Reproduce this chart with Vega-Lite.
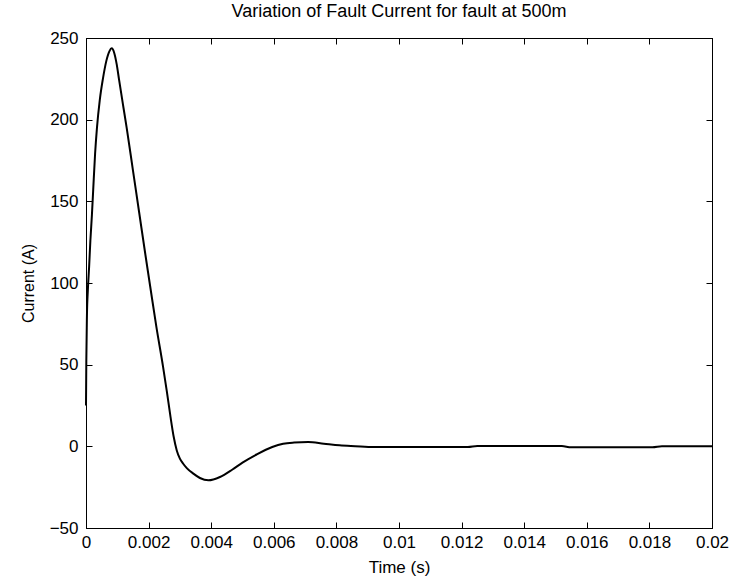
{
  "$schema": "https://vega.github.io/schema/vega-lite/v6.json",
  "width": 626,
  "height": 490,
  "autosize": {"type": "none"},
  "padding": {"left": 86, "top": 38, "right": 27, "bottom": 60},
  "background": "white",
  "config": {
    "font": "Liberation Sans",
    "view": {"stroke": "black", "strokeWidth": 1},
    "axis": {"grid": false, "domainColor": "black", "tickColor": "black", "labelColor": "black", "titleColor": "black", "labelFont": "Liberation Sans", "titleFont": "Liberation Sans", "titleFontWeight": "normal"}
  },
  "title": {"text": "Variation of Fault Current for fault at 500m", "fontSize": 18, "fontWeight": "normal", "font": "Liberation Sans", "color": "black", "offset": 8, "anchor": "middle"},
  "data": {"values": [
    {"t": 0, "i": 25}, {"t": 0.00001, "i": 52}, {"t": 0.00003, "i": 80}, {"t": 0.00006, "i": 96},
    {"t": 0.0001, "i": 110}, {"t": 0.00014, "i": 126}, {"t": 0.00019, "i": 142}, {"t": 0.00023, "i": 157},
    {"t": 0.00029, "i": 179}, {"t": 0.00035, "i": 195}, {"t": 0.00044, "i": 212}, {"t": 0.00054, "i": 225},
    {"t": 0.00065, "i": 236}, {"t": 0.00075, "i": 242}, {"t": 0.00082, "i": 243.7}, {"t": 0.0009, "i": 241},
    {"t": 0.00098, "i": 234}, {"t": 0.00106, "i": 224}, {"t": 0.0012, "i": 207}, {"t": 0.0013, "i": 195}, {"t": 0.0015, "i": 169},
    {"t": 0.0017, "i": 143}, {"t": 0.0019, "i": 117}, {"t": 0.00205, "i": 98}, {"t": 0.00225, "i": 73},
    {"t": 0.00246, "i": 49}, {"t": 0.00258, "i": 34}, {"t": 0.0027, "i": 18}, {"t": 0.0028, "i": 6},
    {"t": 0.0029, "i": -2.5}, {"t": 0.003, "i": -7.5}, {"t": 0.0031, "i": -10.5}, {"t": 0.00322, "i": -13.3},
    {"t": 0.00343, "i": -16.7}, {"t": 0.00364, "i": -19.4},
    {"t": 0.00391, "i": -20.8}, {"t": 0.00428, "i": -18.8}, {"t": 0.00468, "i": -14.2}, {"t": 0.0050, "i": -10},
    {"t": 0.00545, "i": -5}, {"t": 0.00595, "i": -0.4}, {"t": 0.0063, "i": 1.6}, {"t": 0.00665, "i": 2.3},
    {"t": 0.0071, "i": 2.6}, {"t": 0.0076, "i": 1.6}, {"t": 0.0081, "i": 0.6}, {"t": 0.0086, "i": 0.1},
    {"t": 0.0092, "i": -0.4}, {"t": 0.0122, "i": -0.4}, {"t": 0.0125, "i": 0.2}, {"t": 0.0152, "i": 0.2},
    {"t": 0.0155, "i": -0.6}, {"t": 0.0181, "i": -0.6}, {"t": 0.0184, "i": 0}, {"t": 0.02, "i": 0}
  ]},
  "layer": [
    {
      "mark": {"type": "line", "color": "black", "strokeWidth": 2, "interpolate": "monotone"},
      "encoding": {
        "x": {"field": "t", "type": "quantitative", "scale": {"domain": [0, 0.02], "nice": false, "zero": false},
              "axis": {"title": "Time (s)", "orient": "bottom", "values": [0, 0.002, 0.004, 0.006, 0.008, 0.01, 0.012, 0.014, 0.016, 0.018, 0.02], "format": "~g", "tickSize": -6, "labelPadding": 12, "labelFontSize": 17, "titleFontSize": 17, "titlePadding": 9, "labelFlush": false}},
        "y": {"field": "i", "type": "quantitative", "scale": {"domain": [-50, 250], "nice": false, "zero": false},
              "axis": {"title": "Current (A)", "orient": "left", "values": [-50, 0, 50, 100, 150, 200, 250], "tickSize": -6, "labelPadding": 14, "labelFontSize": 17, "titleFontSize": 16, "titlePadding": 13, "labelFlush": false}}
      }
    },
    {
      "mark": {"type": "line", "opacity": 0},
      "encoding": {
        "x": {"field": "t", "type": "quantitative", "scale": {"domain": [0, 0.02], "nice": false, "zero": false},
              "axis": {"orient": "top", "title": null, "labels": false, "values": [0, 0.002, 0.004, 0.006, 0.008, 0.01, 0.012, 0.014, 0.016, 0.018, 0.02], "tickSize": -6}},
        "y": {"field": "i", "type": "quantitative", "scale": {"domain": [-50, 250], "nice": false, "zero": false},
              "axis": {"orient": "right", "title": null, "labels": false, "values": [-50, 0, 50, 100, 150, 200, 250], "tickSize": -6}}
      }
    }
  ],
  "resolve": {"axis": {"x": "independent", "y": "independent"}}
}
